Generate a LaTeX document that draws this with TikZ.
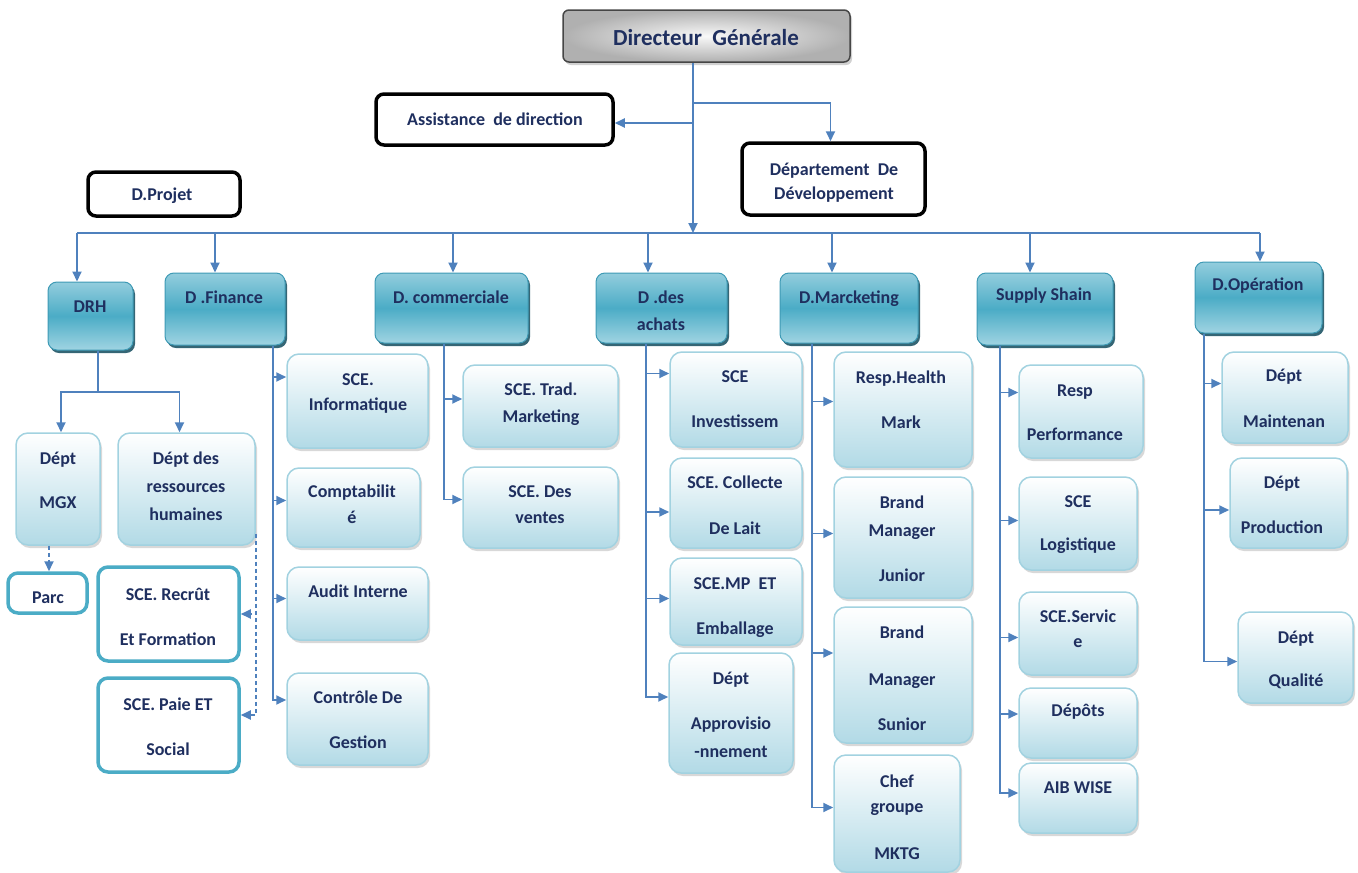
\documentclass[tikz,border=0pt]{standalone}
\usepackage{fontspec}
\setmainfont{Carlito}
\usetikzlibrary{arrows.meta,shadows,fit}
\definecolor{ink}{HTML}{1F2F5F}
\definecolor{wire}{HTML}{4F81BD}
\definecolor{tealA}{HTML}{93CDDD}
\definecolor{tealB}{HTML}{4BACC6}
\definecolor{tealC}{HTML}{A0D4E2}
\definecolor{tealEdge}{HTML}{3E9AB5}
\definecolor{tealShade}{HTML}{1F5566}
\definecolor{paleB}{HTML}{B2DAE6}
\definecolor{paleEdge}{HTML}{A2D2E0}
% label placed on the baseline of its last line
\newcommand\lbl[4]{\node[txt] (#1) at (#2,#3) {#4};}
\begin{document}
\begin{tikzpicture}[x=1pt,y=-1pt,
  txt/.style={font=\fontsize{18}{22}\selectfont\bfseries, text=ink, align=center, inner sep=0pt, anchor=base},
  chief/.style={draw=gray!55!black, line width=1.5pt, rounded corners=6pt, inner sep=0pt,
    inner color=gray!5, outer color=gray!62,
    drop shadow={shadow xshift=2pt, shadow yshift=-3pt, fill=gray!60, opacity=.6}},
  plainbox/.style={draw=black, line width=3.5pt, rounded corners=8pt, fill=white, inner sep=0pt,
    drop shadow={shadow xshift=1pt, shadow yshift=-1pt, fill=gray!40, opacity=.6}},
  tealframe/.style={draw=tealB, line width=3.5pt, rounded corners=10pt, fill=white, inner sep=0pt},
  hdr/.style={draw=tealEdge, line width=1pt, rounded corners=9pt, inner sep=0pt,
    top color=tealA, bottom color=tealC, middle color=tealB,
    drop shadow={shadow xshift=2pt, shadow yshift=-3pt, fill=tealShade, opacity=.9}},
  sub/.style={draw=paleEdge, line width=1.5pt, rounded corners=12pt, inner sep=0pt,
    top color=white, bottom color=paleB,
    drop shadow={shadow xshift=2pt, shadow yshift=-3pt, fill=gray!60, opacity=.5}},
  conn/.style={wire, line width=1.8pt},
  arr/.style={conn, -{Triangle[length=10pt,width=9pt]}},
  dsh/.style={dash pattern=on 4pt off 3pt}
]
\useasboundingbox (0,0) rectangle (1358,873);

% ---- top level ----
\node[chief, fit={(563,10) (850,62)}] (dg) {};
\node[txt, font=\fontsize{23}{27}\selectfont\bfseries] (dg-t) at (706,45) {Directeur\ \ Générale};
\node[plainbox, fit={(376,94) (613,145)}] (asst) {};
\lbl{asst-t}{495}{125}{Assistance\ \ de direction}
\node[plainbox, fit={(742,143) (925,215)}] (dev) {};
\lbl{dev-t}{834}{199}{Département\ \ De\\[2pt]Développement}
\node[plainbox, fit={(88,172) (240,216)}] (proj) {};
\lbl{proj-t}{162}{200}{D.Projet}

% ---- directions ----
\node[hdr, fit={(48,282) (133,350)}] (drh) {};
\lbl{drh-t}{90}{312}{DRH}
\node[hdr, fit={(165,273) (285,345)}] (fin) {};
\lbl{fin-t}{224}{303}{D .Finance}
\node[hdr, fit={(375,273) (528,343)}] (com) {};
\lbl{com-t}{451}{303}{D. commerciale}
\node[hdr, fit={(596,273) (727,343)}] (ach) {};
\lbl{ach-t}{661}{330}{D .des\\[5pt]achats}
\node[hdr, fit={(780,273) (918,343)}] (mkt) {};
\lbl{mkt-t}{849}{303}{D.Marcketing}
\node[hdr, fit={(977,273) (1113,345)}] (sup) {};
\lbl{sup-t}{1044}{300}{Supply Shain}
\node[hdr, fit={(1195,262) (1322,333)}] (ope) {};
\lbl{ope-t}{1258}{290}{D.Opération}

% ---- DRH ----
\node[sub, fit={(16,433) (100,545)}] (mgx) {};
\lbl{mgx-t}{58}{508}{Dépt\\[22pt]MGX}
\node[sub, fit={(118,433) (255,545)}] (rh) {};
\lbl{rh-t}{186}{520}{Dépt des\\[6pt]ressources\\[6pt]humaines}
\node[tealframe, fit={(8,573) (87,613)}] (parc) {};
\lbl{parc-t}{48}{603}{Parc}
\node[tealframe, fit={(98,567) (239,661)}] (recr) {};
\lbl{recr-t}{168}{645}{SCE. Recrût\\[23pt]Et Formation}
\node[tealframe, fit={(98,678) (239,772)}] (paie) {};
\lbl{paie-t}{168}{755}{SCE. Paie ET\\[23pt]Social}

% ---- Finance ----
\node[sub, fit={(287,354) (428,448)}] (info) {};
\lbl{info-t}{358}{410}{SCE.\\[3pt]Informatique}
\node[sub, fit={(287,468) (420,547)}] (compta) {};
\lbl{compta-t}{352}{523}{Comptabilit\\[4pt]é}
\node[sub, fit={(287,567) (428,640)}] (audit) {};
\lbl{audit-t}{358}{597}{Audit Interne}
\node[sub, fit={(287,673) (428,765)}] (ctrl) {};
\lbl{ctrl-t}{358}{748}{Contrôle De\\[23pt]Gestion}

% ---- Commercial ----
\node[sub, fit={(463,365) (618,447)}] (trad) {};
\lbl{trad-t}{541}{422}{SCE. Trad.\\[5pt]Marketing}
\node[sub, fit={(463,467) (618,548)}] (vent) {};
\lbl{vent-t}{540}{523}{SCE. Des\\[4pt]ventes}

% ---- Achats ----
\node[sub, fit={(670,352) (802,447)}] (inv) {};
\lbl{inv-t}{735}{427}{SCE\\[23pt]Investissem}
\node[sub, fit={(670,458) (802,548)}] (coll) {};
\lbl{coll-t}{735}{534}{SCE. Collecte\\[24pt]De Lait}
\node[sub, fit={(670,558) (802,645)}] (mp) {};
\begin{scope}
  \clip (670,558) rectangle (802,636);
  \lbl{mp-t}{735}{634}{SCE.MP\ \ ET\\[23pt]Emballage}
\end{scope}
\node[sub, fit={(669,653) (793,773)}] (appro) {};
\lbl{appro-t}{731}{757}{Dépt\\[23pt]Approvisio\\[6pt]-nnement}

% ---- Marketing ----
\node[sub, fit={(834,352) (972,467)}] (health) {};
\lbl{health-t}{901}{428}{Resp.Health\\[23pt]Mark}
\node[sub, fit={(834,477) (972,598)}] (junior) {};
\lbl{junior-t}{902}{581}{Brand\\[6pt]Manager\\[23pt]Junior}
\node[sub, fit={(834,607) (972,743)}] (sunior) {};
\lbl{sunior-t}{902}{730}{Brand\\[25pt]Manager\\[23pt]Sunior}
\node[sub, fit={(834,755) (960,872)}] (chef) {};
\lbl{chef-t}{897}{859}{Chef\\[3pt]groupe\\[25pt]MKTG}

% ---- Supply ----
\node[sub, fit={(1019,365) (1143,458)}] (perf) {};
\lbl{perf-t}{1075}{440}{Resp\\[22pt]Performance}
\node[sub, fit={(1019,477) (1137,570)}] (logi) {};
\lbl{logi-t}{1078}{550}{SCE\\[21pt]Logistique}
\node[sub, fit={(1019,592) (1137,675)}] (serv) {};
\lbl{serv-t}{1078}{647}{SCE.Servic\\[3pt]e}
\node[sub, fit={(1019,688) (1137,758)}] (depot) {};
\lbl{depot-t}{1078}{716}{Dépôts}
\node[sub, fit={(1019,763) (1137,833)}] (aib) {};
\lbl{aib-t}{1078}{793}{AIB WISE}

% ---- Operation ----
\node[sub, fit={(1222,352) (1348,443)}] (maint) {};
\lbl{maint-t}{1284}{427}{Dépt\\[24pt]Maintenan}
\node[sub, fit={(1230,458) (1347,548)}] (prod) {};
\lbl{prod-t}{1282}{533}{Dépt\\[23pt]Production}
\node[sub, fit={(1238,612) (1353,703)}] (qual) {};
\lbl{qual-t}{1296}{686}{Dépt\\[21pt]Qualité}

% ---- connectors: top ----
\coordinate (trunk) at (693,233);
\coordinate (ta) at (693,123);
\coordinate (td) at (693,103);
\draw[arr] (trunk |- dg.south) -- (trunk);
\draw[arr] (ta) -- (ta -| asst.east);
\draw[arr] (td) -| ([xshift=-3pt]dev.north);

% ---- bus to the directions ----
\coordinate (b1) at (77,233);
\coordinate (b2) at (215,233);
\coordinate (b3) at (453,233);
\coordinate (b4) at (648,233);
\coordinate (b5) at (832,233);
\coordinate (b6) at (1030,233);
\coordinate (b7) at (1260,233);
\draw[conn] (b1) -- (b7);
\draw[arr] (b1) -- (b1 |- drh.north);
\draw[arr] (b2) -- (b2 |- fin.north);
\draw[arr] (b3) -- (b3 |- com.north);
\draw[arr] (b4) -- (b4 |- ach.north);
\draw[arr] (b5) -- (b5 |- mkt.north);
\draw[arr] (b6) -- (b6 |- sup.north);
\draw[arr] (b7) -- (b7 |- ope.north);

% ---- DRH ----
\coordinate (hrj) at (98,392);
\draw[conn] (hrj |- drh.south) -- (hrj);
\draw[arr] (hrj) -| ([xshift=3pt]mgx.north);
\draw[arr] (hrj) -| ([xshift=-7pt]rh.north);
\draw[arr, dsh] ([xshift=-9pt]mgx.south) -- ([xshift=-9pt]mgx.south |- parc.north);
\path ([yshift=12pt]rh.south east) coordinate (rhd);
\draw[arr, dsh] (rhd) |- (recr.east);
\draw[arr, dsh] (rhd) |- ([yshift=10pt]paie.east);

% ---- Finance ----
\path ([xshift=48pt]fin.south) coordinate (fx);
\draw[arr] (fx) |- ([yshift=24pt]info.west);
\draw[arr] (fx) |- ([yshift=7pt]compta.west);
\draw[arr] (fx) |- ([yshift=5pt]audit.west);
\draw[arr] (fx) |- ([yshift=19pt]ctrl.west);

% ---- Commercial ----
\path ([xshift=-7.5pt]com.south) coordinate (cx);
\draw[arr] (cx) |- ([yshift=7pt]trad.west);
\draw[arr] (cx) |- ([yshift=8pt]vent.west);

% ---- Achats ----
\path ([xshift=-15.5pt]ach.south) coordinate (ax);
\draw[arr] (ax) |- ([yshift=26pt]inv.west);
\draw[arr] (ax) |- ([yshift=-9pt]coll.west);
\draw[arr] (ax) |- ([yshift=3pt]mp.west);
\draw[arr] (ax) |- ([yshift=16pt]appro.west);

% ---- Marketing ----
\path ([xshift=-37pt]mkt.south) coordinate (mx);
\draw[arr] (mx) |- ([yshift=8pt]health.west);
\draw[arr] (mx) |- ([yshift=4pt]junior.west);
\draw[arr] (mx) |- ([yshift=22pt]sunior.west);
\draw[arr] (mx) |- ([yshift=6pt]chef.west);

% ---- Supply ----
\path ([xshift=-45pt]sup.south) coordinate (sx);
\draw[arr] (sx) |- ([yshift=19pt]perf.west);
\draw[arr] (sx) |- ([yshift=3pt]logi.west);
\draw[arr] (sx) |- ([yshift=-4pt]serv.west);
\draw[arr] (sx) |- ([yshift=9pt]depot.west);
\draw[arr] (sx) |- ([yshift=5pt]aib.west);

% ---- Operation ----
\path ([xshift=-54.5pt]ope.south) coordinate (ox);
\draw[arr] (ox) |- ([yshift=14pt]maint.west);
\draw[arr] (ox) |- ([yshift=-7pt]prod.west);
\draw[arr] (ox) |- ([yshift=-4pt]qual.west);
\end{tikzpicture}
\end{document}
